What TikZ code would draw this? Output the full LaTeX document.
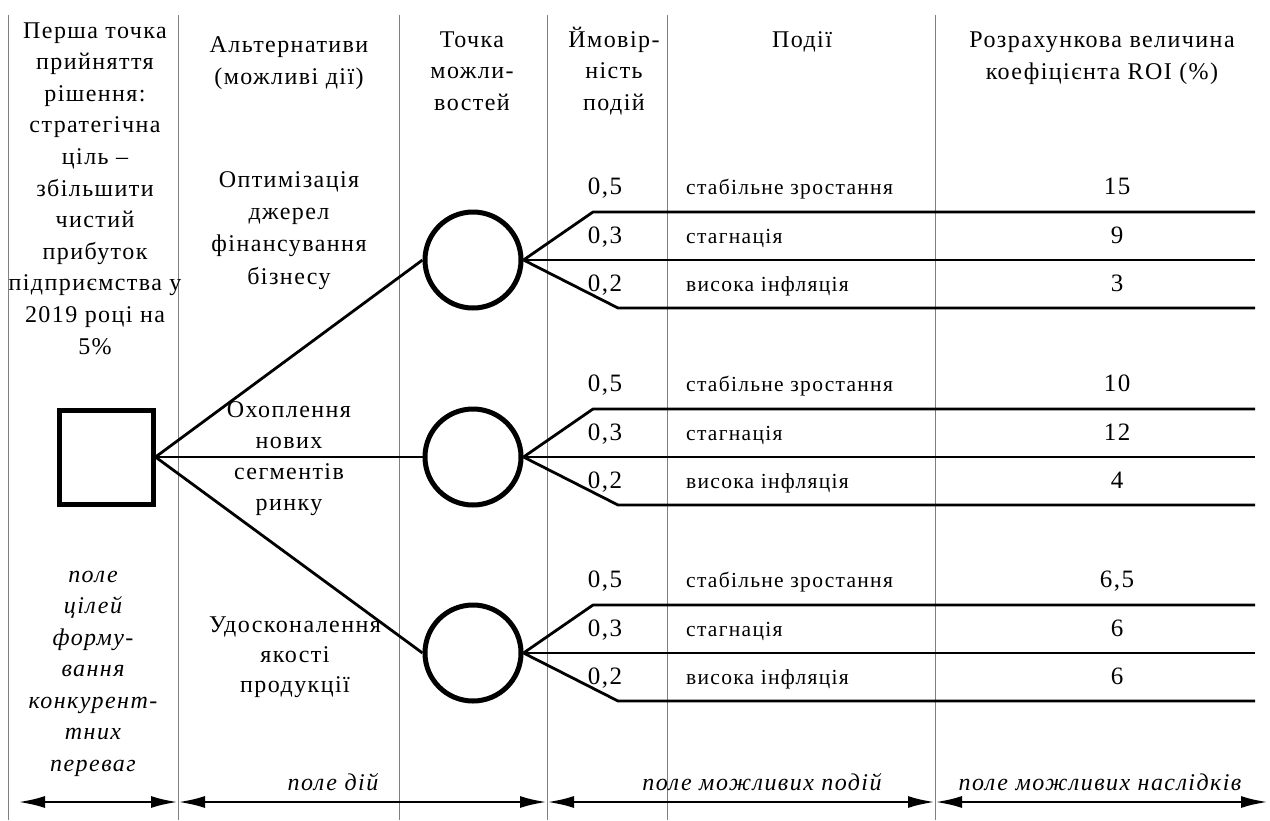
\documentclass[tikz,border=0pt]{standalone}
\usepackage{fontspec}
\setmainfont{Liberation Serif}[LetterSpace=6]
\usetikzlibrary{arrows.meta}
\begin{document}
\begin{tikzpicture}[x=1pt,y=-1pt,
  col/.style={draw=black!50, line width=0.9pt},
  tree/.style={line width=2.8pt, line join=round},
  shp/.style={draw, line width=5pt, inner sep=0pt},
  hd/.style={font=\fontsize{24}{31.6}\selectfont, align=center, anchor=base, inner sep=0pt},
  it/.style={font=\fontsize{24}{31.5}\selectfont\itshape, align=center, anchor=base, inner sep=0pt},
  num/.style={font=\fontsize{25}{28}\selectfont, anchor=base, inner sep=0pt},
  ev/.style={font=\fontsize{21.5}{25}\selectfont, anchor=base west, inner sep=0pt},
  dim/.style={line width=2.8pt, {Latex[length=27pt,width=12pt]}-{Latex[length=27pt,width=12pt]}}
]
\useasboundingbox (0,0) rectangle (1270,820);
\fill[white] (0,0) rectangle (1270,820);
% column separators
\foreach \x/\n in {8/0,178/1,399/2,547/3,667/4,935/5}{
  \coordinate (t\n) at (\x,15);
  \coordinate (b\n) at (\x,820);
  \draw[col] (t\n) -- (b\n);
}
% headers (base anchor = baseline of the last line)
\node[hd] (h1) at (95,354) {Перша точка\\прийняття\\рішення:\\стратегічна\\ціль –\\збільшити\\чистий\\прибуток\\підприємства у\\2019 році на\\5\%};
\node[it] (f1) at (93,771) {поле\\цілей\\форму-\\вання\\конкурент-\\тних\\переваг};
\node[hd, font=\fontsize{24}{32}\selectfont] (h2) at (289,84) {Альтернативи\\(можливі дії)};
\node[hd, font=\fontsize{24}{31.5}\selectfont] (h3) at (472,110) {Точка\\можли-\\востей};
\node[hd, font=\fontsize{24}{31.5}\selectfont] (h4) at (614,110) {Ймовір-\\ність\\подій};
\node[hd] (h5) at (802,47) {Події};
\node[hd, font=\fontsize{24}{32}\selectfont] (h6) at (1102,79) {Розрахункова величина\\коефіцієнта ROI (\%)};
% alternatives
\node[hd, font=\fontsize{24}{32.3}\selectfont] (a1) at (289,284) {Оптимізація\\джерел\\фінансування\\бізнесу};
\node[hd, font=\fontsize{24}{31}\selectfont] (a2) at (289,510) {Охоплення\\нових\\сегментів\\ринку};
\node[hd, font=\fontsize{24}{30}\selectfont] (a3) at (295,692) {Удосконалення\\якості\\продукції};
% decision square
\node[shp, minimum size=94pt] (sq) at (106,457) {};
% chance nodes and branches
\foreach \g/\cy/\va/\vb/\vc in {1/260/15/9/3, 2/457/10/12/4, 3/653/{6,5}/6/6}{
  \node[shp, circle, minimum size=96pt] (c\g) at (473,\cy) {};
  \draw[tree] (sq.east) -- (c\g.west);
  \coordinate (u\g) at (593,\cy-48);
  \coordinate (ue\g) at (1255,\cy-48);
  \coordinate (me\g) at (1255,\cy);
  \coordinate (l\g) at (618,\cy+48);
  \coordinate (le\g) at (1255,\cy+48);
  \draw[tree] (c\g.east) -- (u\g) -- (ue\g);
  \draw[tree] (c\g.east) -- (me\g);
  \draw[tree] (c\g.east) -- (l\g) -- (le\g);
  \node[num] (p\g-a) at (605,\cy-66) {0,5};
  \node[num] (p\g-b) at (605,\cy-17) {0,3};
  \node[num] (p\g-c) at (605,\cy+31) {0,2};
  \node[ev] (e\g-a) at (686,\cy-66) {стабільне зростання};
  \node[ev] (e\g-b) at (686,\cy-17) {стагнація};
  \node[ev] (e\g-c) at (686,\cy+31) {висока інфляція};
  \node[num] (r\g-a) at (1117,\cy-66) {\va};
  \node[num] (r\g-b) at (1117,\cy-17) {\vb};
  \node[num] (r\g-c) at (1117,\cy+31) {\vc};
}
% bottom field labels
\node[it] (f2) at (333,790) {поле дій};
\node[it] (f3) at (762,790) {поле можливих подій};
\node[it] (f4) at (1100,790) {поле можливих наслідків};
% dimension arrows
\coordinate (d0) at (18,802);
\coordinate (d1) at (178,802);
\coordinate (d2) at (547,802);
\coordinate (d3) at (935,802);
\coordinate (d4) at (1268,802);
\draw[dim] (d0) -- (d1);
\draw[dim] (d1) -- (d2);
\draw[dim] (d2) -- (d3);
\draw[dim] (d3) -- (d4);
\end{tikzpicture}
\end{document}
